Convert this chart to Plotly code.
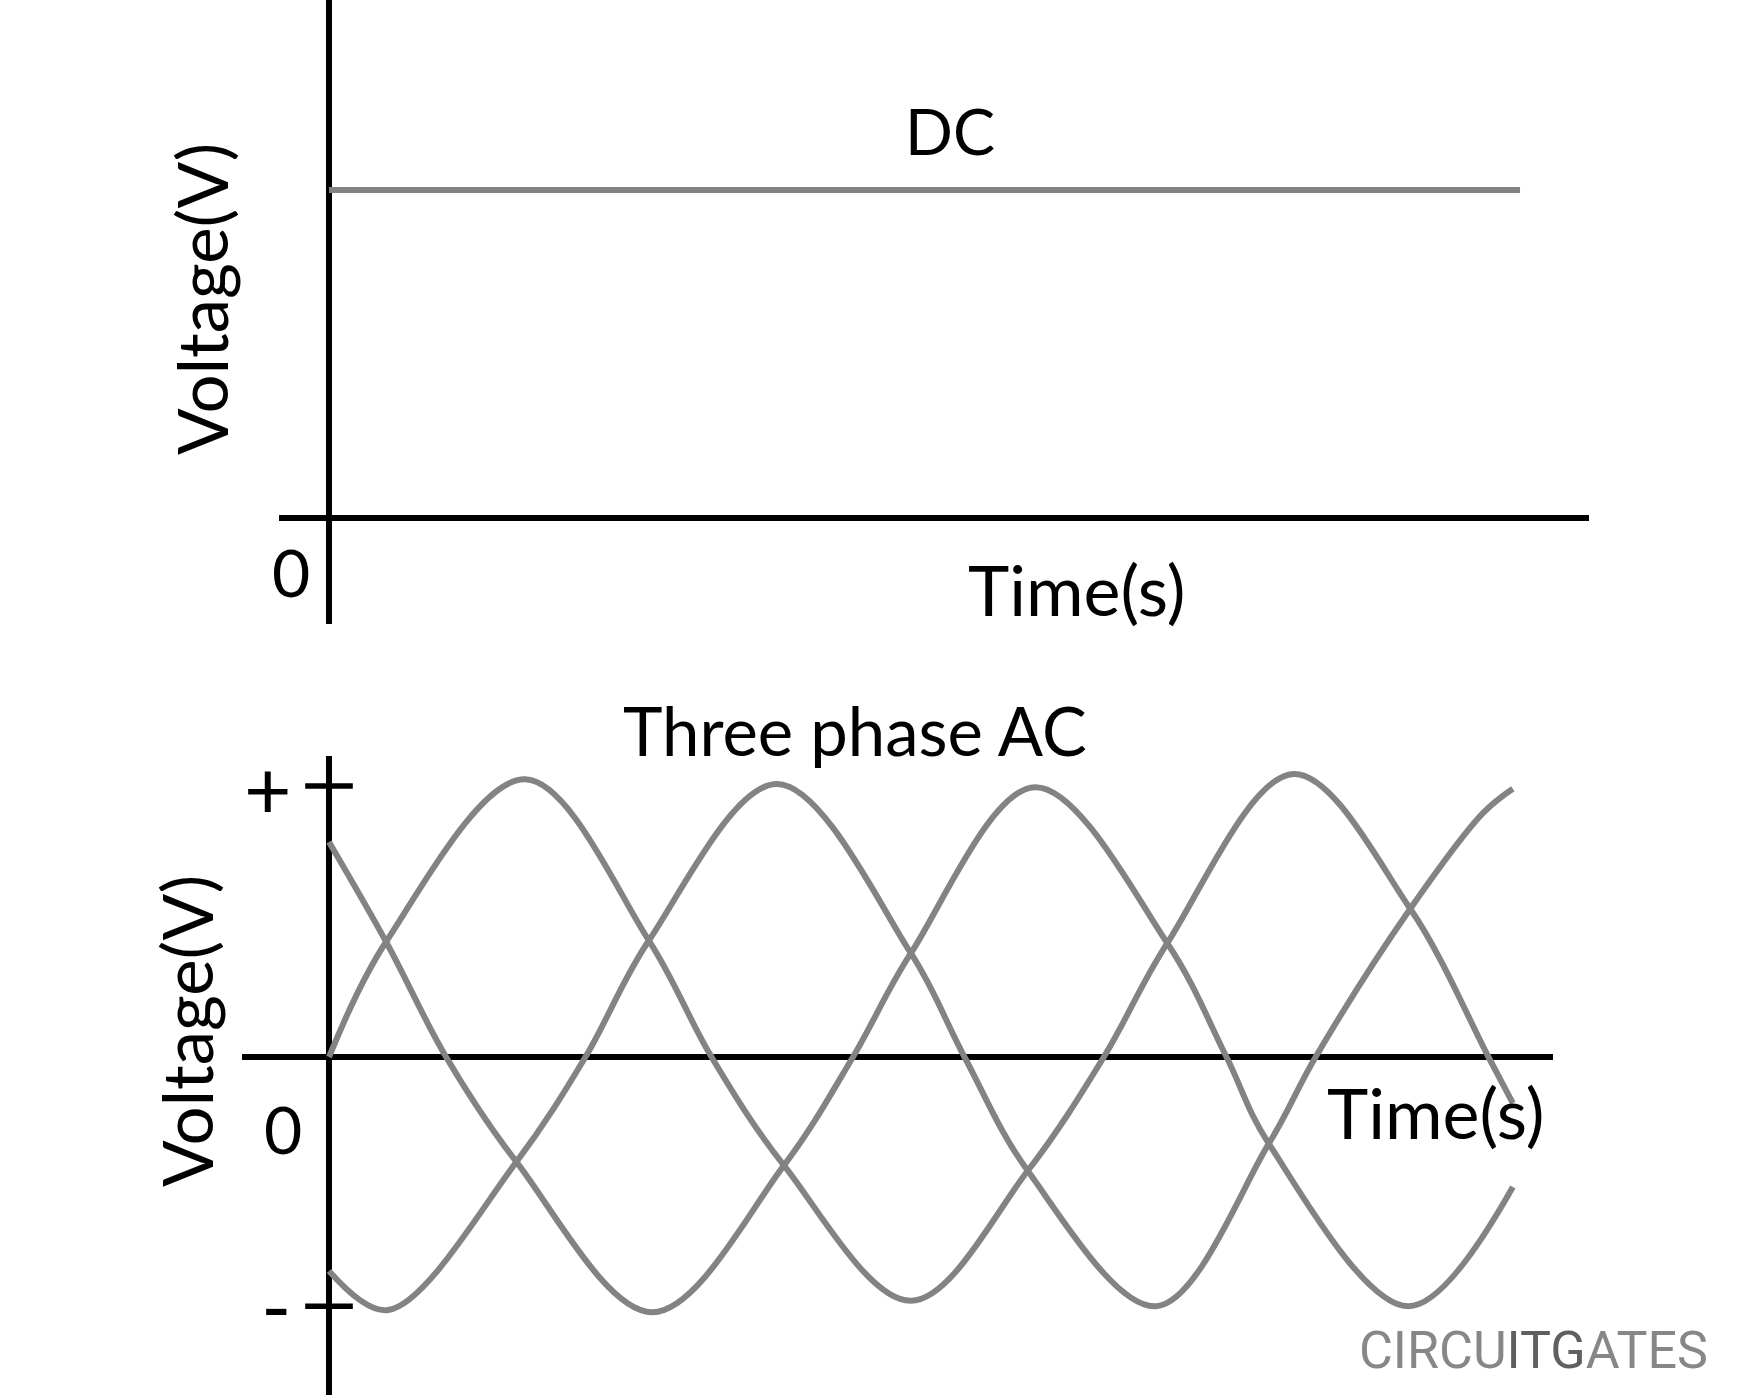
import plotly.graph_objects as go

W, H = 1748, 1395

# ---------------- data ----------------
# DC panel (time in s, voltage in V)
dc_time = [0, 10]
dc_voltage = [5, 5]

# Three phase panel: electrical angle (deg) and normalised voltage
phase_a_t = [0, 27.1, 91.8, 149.7, 179, 212.9, 272.3, 327, 362.6, 392.3, 451.3, 506, 542.6, 554]
phase_a_v = [0, 0.43, 1.025, 0.43, 0, -0.40, -0.90, -0.42, 0, 0.42, 1.045, 0.547, 0, -0.17]

phase_b_t = [0, 27.7, 87.7, 120, 149.7, 209.7, 272.3, 297.4, 327, 387.1, 439.8, 461.7, 506, 540, 554]
phase_b_v = [-0.79, -0.934, -0.387, 0, 0.43, 1.008, 0.383, 0, -0.42, -0.92, -0.32, 0, 0.547, 0.9, 0.99]

phase_c_t = [0, 27.1, 54.8, 87.7, 151.3, 212.9, 245.2, 272.3, 330.3, 392.3, 420, 439.8, 505, 554]
phase_c_v = [0.794, 0.42, 0, -0.387, -0.942, -0.40, 0, 0.383, 0.996, 0.42, 0, -0.32, -0.92, -0.48]

tick_values = [1.0, -0.92]

GRAY = "#838383"
FONT = "Lato"

fig = go.Figure()

fig.add_trace(go.Scatter(x=dc_time, y=dc_voltage, mode="lines",
                         line=dict(color=GRAY, width=6),
                         xaxis="x", yaxis="y", showlegend=False, hoverinfo="skip"))

for tt, vv in [(phase_a_t, phase_a_v), (phase_b_t, phase_b_v), (phase_c_t, phase_c_v)]:
    fig.add_trace(go.Scatter(x=tt, y=vv, mode="lines",
                             line=dict(color=GRAY, width=6, shape="spline", smoothing=1.0),
                             xaxis="x2", yaxis="y2", showlegend=False, hoverinfo="skip"))

# tick marks on the bottom voltage axis
fig.add_trace(go.Scatter(x=[0] * len(tick_values), y=tick_values, mode="markers",
                         marker=dict(symbol="line-ew", size=34,
                                     line=dict(color="black", width=5.5)),
                         xaxis="x2", yaxis="y2", showlegend=False, hoverinfo="skip"))


def px(x):
    return x / W


def py(y):
    return 1 - y / H


axis_common = dict(showgrid=False, showticklabels=False, ticks="", showline=False,
                   zeroline=True, zerolinecolor="black", zerolinewidth=5.5, fixedrange=True)

fig.update_layout(
    width=W, height=H,
    margin=dict(l=0, r=0, t=0, b=0),
    paper_bgcolor="white", plot_bgcolor="white",
    xaxis=dict(domain=[px(279), px(1589)], range=[-0.4198, 10.579], anchor="y", **axis_common),
    yaxis=dict(domain=[py(624), 1], range=[-1.616, 7.896], anchor="x", **axis_common),
    xaxis2=dict(domain=[px(242), px(1553)], range=[-40.72, 572.8], anchor="y2", **axis_common),
    yaxis2=dict(domain=[0, py(756)], range=[-1.2477, 1.1111], anchor="x2", **axis_common),
)

texts = [
    ("DC", 950, 130, 63, 0),
    ("Time(s)", 1076, 589, 70, 0),
    ("0", 291, 571, 66, 0),
    ("Voltage(V)", 201, 299, 69, -90),
    ("Three phase AC", 855, 730, 67, 0),
    ("+", 268, 787, 82, 0),
    ("-", 276, 1304, 82, 0),
    ("0", 283, 1128, 66, 0),
    ("Voltage(V)", 186, 1031, 69, -90),
    ("Time(s)", 1435, 1112, 70, 0),
]
for t, x, y, s, rot in texts:
    fig.add_annotation(text=t, x=px(x), y=py(y), xref="paper", yref="paper",
                       xanchor="center", yanchor="middle", showarrow=False,
                       textangle=rot, font=dict(family=FONT, size=s, color="black"))

fig.add_annotation(
    text="CIRCU<span style='color:#5f5f5f'>ITG</span>ATES",
    x=px(1533), y=py(1350), xref="paper", yref="paper",
    xanchor="center", yanchor="middle", showarrow=False,
    font=dict(family="Roboto", size=52, color="#878787"))

fig.write_html("out.html", config={"displayModeBar": False},
               post_script="document.body.style.margin='0px';")
